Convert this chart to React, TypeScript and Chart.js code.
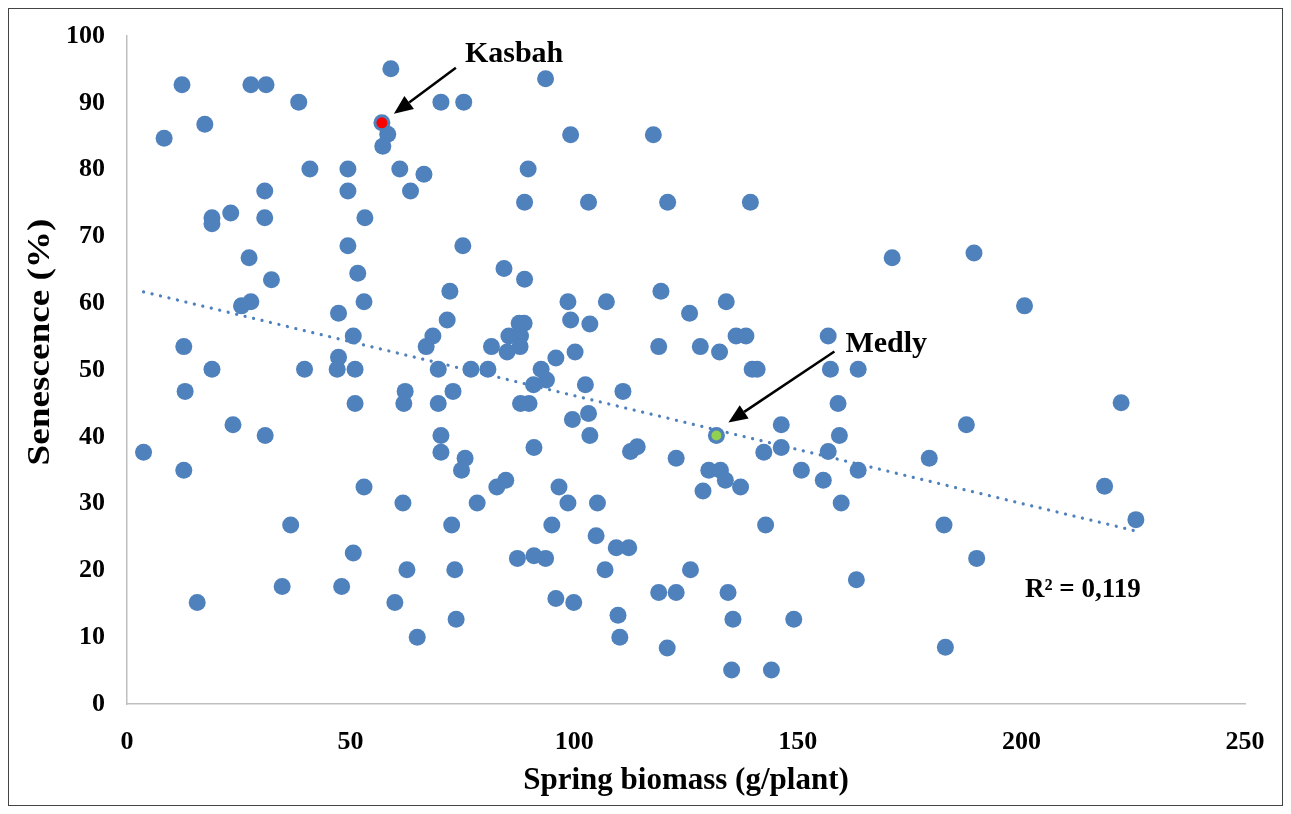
import React, { useEffect, useRef } from "react";
import { Chart, registerables } from "chart.js";

Chart.register(...registerables);

// Spring biomass (g/plant) of each genotype
const biomass = [
  59.0, 93.6, 12.3, 27.7, 31.1, 38.4, 70.2, 75.3, 17.4, 8.3,
  57.0, 58.3, 57.2, 99.2, 117.7, 40.9, 49.4, 61.0, 66.4, 89.7,
  30.8, 49.4, 63.4, 19.0, 19.0, 23.2, 30.8, 53.2, 88.9, 103.2,
  120.9, 139.4, 75.1, 49.4, 27.3, 171.1, 189.4, 32.3, 27.7, 25.6,
  12.7, 19.0, 13.0, 23.7, 30.9, 3.7, 12.7, 51.6, 53.0, 47.3,
  50.6, 47.3, 47.0, 51.0, 39.7, 51.0, 62.2, 61.9, 72.2, 71.6,
  68.4, 66.9, 81.5, 69.6, 76.9, 80.7, 72.9, 69.6, 70.2, 70.2,
  75.6, 74.8, 84.3, 88.9, 98.6, 107.2, 99.2, 103.5, 119.4, 134.0,
  125.8, 136.2, 138.4, 118.9, 128.2, 132.5, 139.8, 140.9, 156.8, 157.3,
  163.5, 159.0, 87.7, 88.8, 85.4, 88.0, 85.0, 87.9, 95.9, 100.2,
  92.6, 93.8, 90.9, 102.5, 110.9, 88.0, 89.9, 99.6, 103.2, 103.5,
  91.0, 112.6, 114.1, 122.8, 131.8, 146.3, 146.3, 142.4, 159.3, 156.8,
  163.5, 150.8, 130.1, 132.7, 155.7, 84.7, 200.7, 222.3, 187.7, 179.4,
  53.0, 61.7, 78.3, 82.7, 36.6, 72.6, 50.6, 62.6, 73.3, 34.7,
  48.0, 15.7, 59.9, 73.6, 64.9, 96.6, 98.6, 105.2, 95.0, 104.9,
  109.4, 112.2, 87.3, 91.0, 93.6, 106.9, 95.9, 99.9, 109.8, 110.2,
  120.8, 126.0, 118.9, 122.8, 128.8, 133.8, 137.2, 134.4, 135.5, 135.2,
  144.1, 142.8, 149.1, 159.7, 163.1, 218.6, 225.6, 182.7, 190.0, 183.0,
];

// Senescence (%) of each genotype
const senescence = [
  95.1, 93.6, 92.7, 92.7, 92.7, 90.1, 90.1, 90.1, 86.8, 84.7,
  87.0, 85.3, 83.5, 85.2, 85.2, 80.1, 80.1, 80.1, 79.3, 80.1,
  76.8, 76.8, 76.8, 72.8, 71.9, 73.5, 72.8, 72.8, 75.1, 75.1,
  75.1, 75.1, 68.6, 68.6, 66.8, 66.8, 67.5, 63.5, 60.2, 59.6,
  53.5, 50.1, 46.8, 41.8, 40.2, 37.7, 35.0, 64.5, 60.2, 58.5,
  55.1, 51.9, 50.1, 50.1, 50.1, 45.0, 46.8, 45.0, 61.8, 57.5,
  55.1, 53.5, 53.5, 50.1, 50.1, 50.1, 46.8, 45.0, 40.2, 37.7,
  36.8, 35.0, 65.2, 63.6, 60.2, 60.2, 57.5, 56.9, 61.8, 60.2,
  58.5, 55.1, 55.1, 53.5, 53.5, 52.7, 50.1, 50.1, 55.1, 50.1,
  50.1, 45.0, 57.0, 57.0, 55.1, 55.1, 52.7, 53.5, 51.8, 52.7,
  50.1, 48.5, 47.8, 47.8, 46.8, 45.0, 45.0, 42.6, 43.5, 40.2,
  38.4, 37.8, 38.5, 36.8, 40.2, 41.8, 38.4, 37.7, 40.2, 37.8,
  35.0, 35.0, 35.0, 35.0, 33.5, 33.5, 59.6, 45.1, 41.8, 36.8,
  32.5, 30.1, 30.1, 32.5, 26.8, 26.8, 22.6, 20.1, 20.1, 17.6,
  17.6, 15.2, 15.2, 12.7, 10.0, 32.5, 30.1, 30.1, 26.8, 25.2,
  23.4, 23.4, 21.8, 22.2, 21.8, 20.1, 15.8, 15.2, 13.3, 10.0,
  8.4, 20.1, 16.7, 16.7, 31.9, 33.5, 32.5, 16.7, 12.7, 5.1,
  5.1, 26.8, 12.7, 30.1, 18.6, 32.6, 27.6, 26.8, 21.8, 8.5,
];

// Highlighted genotypes
const kasbah = [57.0, 87.0];
const medly = [131.8, 40.2];

// Linear trendline end points (as drawn)
const trendX = [3.7, 225.6];
const trendY = [61.7, 25.9];
const rSquaredLabel = "R² = 0,119";

const xTitle = "Spring biomass (g/plant)";
const yTitle = "Senescence (%)";

const SERIF = '"Liberation Serif", "Times New Roman", serif';
const BLUE = "#4F81BD";

function drawArrow(ctx: CanvasRenderingContext2D, x1: number, y1: number, x2: number, y2: number) {
  const ang = Math.atan2(y2 - y1, x2 - x1);
  const headLen = 19;
  const headHalf = 8;
  const bx = x2 - headLen * Math.cos(ang);
  const by = y2 - headLen * Math.sin(ang);
  ctx.strokeStyle = "#000";
  ctx.fillStyle = "#000";
  ctx.lineWidth = 2.5;
  ctx.beginPath();
  ctx.moveTo(x1, y1);
  ctx.lineTo(bx, by);
  ctx.stroke();
  ctx.beginPath();
  ctx.moveTo(x2, y2);
  ctx.lineTo(bx + headHalf * Math.sin(ang), by - headHalf * Math.cos(ang));
  ctx.lineTo(bx - headHalf * Math.sin(ang), by + headHalf * Math.cos(ang));
  ctx.closePath();
  ctx.fill();
}

const annotationPlugin = {
  id: "annotations",
  afterDatasetsDraw(chart: any) {
    const { ctx, scales, chartArea } = chart;
    const x = scales.x;
    const y = scales.y;
    ctx.save();
    ctx.fillStyle = "#000";
    ctx.textAlign = "left";
    ctx.textBaseline = "alphabetic";

    const kx = x.getPixelForValue(kasbah[0]);
    const ky = y.getPixelForValue(kasbah[1]);
    drawArrow(ctx, kx + 74, ky - 55, kx + 12, ky - 9);
    ctx.fillStyle = "#000";
    ctx.font = `bold 30px ${SERIF}`;
    ctx.fillText("Kasbah", kx + 83, ky - 61);

    const mx = x.getPixelForValue(medly[0]);
    const my = y.getPixelForValue(medly[1]);
    drawArrow(ctx, mx + 118, my - 84, mx + 12, my - 13);
    ctx.fillStyle = "#000";
    ctx.font = `bold 30px ${SERIF}`;
    ctx.fillText("Medly", mx + 129, my - 83);

    ctx.font = `bold 27px ${SERIF}`;
    ctx.textBaseline = "middle";
    ctx.fillText(rSquaredLabel, x.getPixelForValue(200.8), y.getPixelForValue(17.1));

    // Y axis title (placed as in the original figure)
    ctx.save();
    ctx.translate(32, chartArea.top + 306);
    ctx.rotate(-Math.PI / 2);
    ctx.scale(1.2, 1);
    ctx.font = `bold 31px ${SERIF}`;
    ctx.textAlign = "center";
    ctx.textBaseline = "middle";
    ctx.fillText(yTitle, 0, 0);
    ctx.restore();

    ctx.restore();
  },
};

export default function App() {
  const canvasRef = useRef<HTMLCanvasElement | null>(null);

  useEffect(() => {
    if (!canvasRef.current) return;
    const points = biomass.map((b, i) => ({ x: b, y: senescence[i] }));
    const trend = trendX.map((t, i) => ({ x: t, y: trendY[i] }));

    const chart = new Chart(canvasRef.current, {
      type: "scatter",
      data: {
        datasets: [
          {
            label: "Kasbah",
            data: [{ x: kasbah[0], y: kasbah[1] }],
            backgroundColor: "#FF0000",
            borderColor: "#FF0000",
            borderWidth: 0,
            pointRadius: 5.5,
            order: 0,
          },
          {
            label: "Medly",
            data: [{ x: medly[0], y: medly[1] }],
            backgroundColor: "#92D050",
            borderColor: "#92D050",
            borderWidth: 0,
            pointRadius: 5,
            order: 0,
          },
          {
            label: "Linear trend",
            type: "line",
            data: trend,
            showLine: true,
            borderColor: BLUE,
            borderWidth: 3.2,
            borderDash: [0.1, 8.6],
            borderCapStyle: "round",
            pointRadius: 0,
            fill: false,
            order: 1,
          } as any,
          {
            label: "Genotypes",
            data: points,
            backgroundColor: BLUE,
            borderColor: BLUE,
            borderWidth: 0,
            pointRadius: 8.5,
            order: 2,
          },
        ],
      },
      options: {
        animation: false,
        responsive: true,
        maintainAspectRatio: false,
        layout: { padding: { top: 27, right: 37, bottom: 0, left: 0 } },
        plugins: {
          legend: { display: false },
          tooltip: { enabled: false },
        },
        scales: {
          x: {
            type: "linear",
            min: 0,
            max: 250,
            grid: { display: false, drawTicks: false },
            border: { display: true, color: "#BFBFBF", width: 1.5 },
            ticks: {
              stepSize: 50,
              padding: 23,
              color: "#000",
              font: { family: SERIF, size: 26, weight: "bold" },
            },
            title: {
              display: true,
              text: xTitle,
              color: "#000",
              font: { family: SERIF, size: 31, weight: "bold" },
              padding: { top: 0, bottom: 5 },
            },
            afterFit: (scale: any) => {
              scale.height = 101;
              scale.paddingLeft = 0;
              scale.paddingRight = 0;
            },
          },
          y: {
            type: "linear",
            min: 0,
            max: 100,
            grid: { display: false, drawTicks: false },
            border: { display: true, color: "#BFBFBF", width: 1.5 },
            ticks: {
              stepSize: 10,
              padding: 22,
              color: "#000",
              font: { family: SERIF, size: 26, weight: "bold" },
            },
            title: { display: false, text: yTitle },
            afterFit: (scale: any) => {
              scale.width = 118;
              scale.paddingTop = 0;
              scale.paddingBottom = 0;
            },
          },
        },
      },
      plugins: [annotationPlugin],
    });
    return () => chart.destroy();
  }, []);

  return (
    <div
      style={{
        border: "1px solid #444",
        height: 798,
        boxSizing: "border-box",
        background: "#fff",
      }}
    >
      <div style={{ position: "relative", width: "100%", height: 796 }}>
        <canvas ref={canvasRef} />
      </div>
    </div>
  );
}
